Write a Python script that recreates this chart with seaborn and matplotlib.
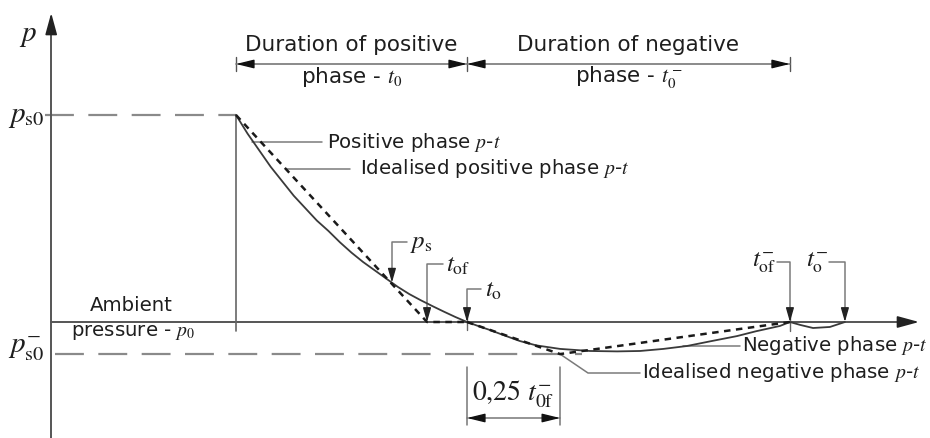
import matplotlib
matplotlib.use("Agg")
import matplotlib.pyplot as plt
import pandas as pd
import seaborn as sns

# ---------------- data (time in ms-like units, pressure relative to p_s0) -------------
t_pos = [0, 0.5, 1, 1.5, 2, 2.5, 3, 3.5, 4, 4.5, 5, 5.5, 6, 6.5, 7, 7.5, 8, 8.5,
         9, 9.5, 10]
p_pos = [1.0, 0.91, 0.83, 0.75, 0.68, 0.61, 0.55, 0.49, 0.44, 0.385, 0.335, 0.29,
         0.25, 0.21, 0.17, 0.135, 0.105, 0.077, 0.05, 0.024, 0.0]

t_pos_ideal = [0, 8.27, 10]
p_pos_ideal = [1.0, 0.0, 0.0]

t_neg = [10, 10.5, 11.0, 11.5, 12.29, 13.0, 14.03, 15.32, 16.5, 17.49, 18.5,
         19.52, 20.5, 21.69, 22.5, 23.55, 23.98, 24.42, 24.98, 25.71, 26.36]
p_neg = [0, -0.02, -0.039, -0.06, -0.092, -0.113, -0.130, -0.140, -0.142, -0.140,
         -0.130, -0.116, -0.094, -0.068, -0.045, -0.019, 0, -0.014, -0.029,
         -0.024, 0]

t_neg_ideal = [10, 14.03, 23.98]
p_neg_ideal = [0.0, -0.155, 0.0]

p_s0 = 1.0
p_s0_neg = -0.155
t_arrival = 0.0
t_of = 8.27
t_o = 10.0
t_of_neg = 23.98
t_o_neg = 26.36
t_ps, p_ps = 6.75, 0.19
t_axis = -8.0

# ---------------- style ----------------
sns.set_theme(style="white")
plt.rcParams["font.family"] = ["DejaVu Sans"]
plt.rcParams["mathtext.fontset"] = "stix"

W, H = 930, 439
fig = plt.figure(figsize=(W / 100, H / 100), dpi=100)
ax = fig.add_axes([0, 0, 1, 1])
# pixel -> data helpers (layout only)
def X(px):
    return (px - 236) / 23.1
def Y(py):
    return (323 - py) / 207.0
ax.set_xlim(X(0), X(W))
ax.set_ylim(Y(H), Y(0))
ax.axis("off")

TXT = "#1e1e1e"
AX_C = "#555555"
CURVE = "#3a3a3a"
LEAD = "#7a7a7a"
FS = 15.5     # header text
FS2 = 14.2    # curve labels

# ---------------- curves via seaborn ----------------
df_pos = pd.DataFrame({"t": t_pos, "p": p_pos})
df_pos_i = pd.DataFrame({"t": t_pos_ideal, "p": p_pos_ideal})
df_neg = pd.DataFrame({"t": t_neg, "p": p_neg})
df_neg_i = pd.DataFrame({"t": t_neg_ideal, "p": p_neg_ideal})

sns.lineplot(data=df_pos, x="t", y="p", ax=ax, color=CURVE, lw=1.3,
             sort=False, estimator=None, zorder=4)
sns.lineplot(data=df_neg, x="t", y="p", ax=ax, color=CURVE, lw=1.3,
             sort=False, estimator=None, zorder=4)
sns.lineplot(data=df_pos_i, x="t", y="p", ax=ax, color="#1a1a1a", lw=1.8,
             sort=False, estimator=None, zorder=5, linestyle=(0, (2.6, 2.2)))
sns.lineplot(data=df_neg_i, x="t", y="p", ax=ax, color="#1a1a1a", lw=1.8,
             sort=False, estimator=None, zorder=5, linestyle=(0, (2.6, 2.2)))

# ---------------- axes ----------------
ax.plot([t_axis, t_axis], [Y(H), Y(30)], color=AX_C, lw=1.4, zorder=3)
ax.annotate("", xy=(t_axis, Y(14)), xytext=(t_axis, Y(32)),
            arrowprops=dict(arrowstyle="-|>,head_length=1.1,head_width=0.3",
                            color="#222", lw=1.2, shrinkA=0, shrinkB=0))
ax.plot([t_axis, X(905)], [0, 0], color=AX_C, lw=1.4, zorder=3)
ax.annotate("", xy=(X(919), 0), xytext=(X(900), 0),
            arrowprops=dict(arrowstyle="-|>,head_length=1.1,head_width=0.3",
                            color="#222", lw=1.2, shrinkA=0, shrinkB=0))

# reference dashed levels
ax.plot([X(45), t_arrival], [p_s0, p_s0], color="#8a8a8a", lw=1.6,
        linestyle=(0, (13, 6.5)), zorder=2)
ax.plot([X(55), X(582)], [p_s0_neg, p_s0_neg], color="#8a8a8a", lw=1.6,
        linestyle=(0, (13, 6.5)), zorder=2)

# vertical at arrival and ticks on axis
ax.plot([t_arrival, t_arrival], [p_s0, Y(332)], color="#666", lw=1.2, zorder=3)
ax.plot([t_o, t_o], [Y(314), Y(331)], color="#666", lw=1.0, zorder=3)
ax.plot([t_of_neg, t_of_neg], [Y(316), Y(332)], color="#666", lw=1.0, zorder=3)

# ---------------- top duration dimension ----------------
ydim = Y(65)
ax.plot([t_arrival, t_of_neg], [ydim, ydim], color="#777", lw=1.2, zorder=3)
for tx in (t_arrival, t_o, t_of_neg):
    ax.plot([tx, tx], [Y(58), Y(72)], color="#555", lw=1.0)
arrow_small = dict(arrowstyle="-|>,head_length=0.9,head_width=0.22",
                   color="#111", lw=1.0, shrinkA=0, shrinkB=0)
for tip, tail in ((t_arrival, X(250)), (t_o, X(453)), (t_o, X(481)),
                  (t_of_neg, X(776))):
    ax.annotate("", xy=(tip, ydim), xytext=(tail, ydim), arrowprops=arrow_small)

ax.text((t_arrival + t_o) / 2, Y(45), "Duration of positive", ha="center",
        va="center", fontsize=FS, color=TXT)
ax.text((t_arrival + t_o) / 2, Y(77), "phase - $t_0$", ha="center",
        va="center", fontsize=FS, color=TXT)
ax.text((t_o + t_of_neg) / 2, Y(45), "Duration of negative", ha="center",
        va="center", fontsize=FS, color=TXT)
ax.text((t_o + t_of_neg) / 2, Y(77), "phase - $t_0^-$", ha="center",
        va="center", fontsize=FS, color=TXT)

# ---------------- axis labels ----------------
ax.text(X(28), Y(35), "$p$", ha="center", va="center", fontsize=21, color=TXT)
ax.text(X(45), p_s0, "$p_{\\mathrm{s0}}$", ha="right", va="center",
        fontsize=21, color=TXT)
ax.text(X(45), Y(349), "$p_{\\mathrm{s0}}^{-}$", ha="right", va="center",
        fontsize=21, color=TXT)
ax.text(X(131), Y(306), "Ambient", ha="center", va="center", fontsize=FS2,
        color=TXT)
ax.text(X(133), Y(333), "pressure - $p_0$", ha="center", va="center",
        fontsize=FS2, color=TXT)

# ---------------- curve labels with leaders ----------------
def leader(pts):
    xs = [p[0] for p in pts]
    ys = [p[1] for p in pts]
    ax.plot(xs, ys, color=LEAD, lw=1.1, zorder=3)

leader([(X(252), Y(143)), (X(322), Y(143))])
ax.text(X(327), Y(142), "Positive phase $p$-$t$", ha="left", va="center",
        fontsize=FS2, color=TXT)
leader([(X(287), Y(170)), (X(350), Y(170))])
ax.text(X(360), Y(169), "Idealised positive phase $p$-$t$", ha="left",
        va="center", fontsize=FS2, color=TXT)
leader([(X(683), Y(347)), (X(740), Y(347))])
ax.text(X(742), Y(346), "Negative phase $p$-$t$", ha="left", va="center",
        fontsize=FS2, color=TXT)
leader([(t_neg_ideal[1], p_neg_ideal[1]), (X(588), Y(374)), (X(640), Y(374))])
ax.text(X(642), Y(373), "Idealised negative phase $p$-$t$", ha="left",
        va="center", fontsize=FS2, color=TXT)

# ---------------- point markers with bent leaders ----------------
arrow_pt = dict(arrowstyle="-|>,head_length=0.7,head_width=0.2",
                color="#222", lw=1.0, shrinkA=0, shrinkB=0)

def marker(tx, py_top, tip_p, x_end, label, lx, left=False):
    ax.plot([x_end, tx, tx], [Y(py_top), Y(py_top), tip_p + 0.05],
            color=LEAD, lw=1.1, zorder=3)
    ax.annotate("", xy=(tx, tip_p), xytext=(tx, tip_p + 0.06),
                arrowprops=arrow_pt)
    ax.text(lx, Y(py_top), label, ha="right" if left else "left",
            va="center", fontsize=18, color=TXT)

marker(t_ps, 243, p_ps, X(407), "$p_{\\mathrm{s}}$", X(410))
marker(t_of, 265, 0.0, X(443), "$t_{\\mathrm{of}}$", X(446))
marker(t_o, 290, 0.0, X(481), "$t_{\\mathrm{o}}$", X(485))
marker(t_of_neg, 263, 0.0, X(777), "$t_{\\mathrm{of}}^{-}$", X(776), left=True)
marker(t_o_neg, 263, 0.0, X(829), "$t_{\\mathrm{o}}^{-}$", X(828), left=True)

# ---------------- 0.25 t_of- dimension ----------------
t_min = t_neg_ideal[1]
for tx in (t_o, t_min):
    ax.plot([tx, tx], [Y(368), Y(426)], color="#777", lw=1.1)
ydim2 = Y(419)
ax.plot([t_o, t_min], [ydim2, ydim2], color="#777", lw=1.1)
ax.annotate("", xy=(t_o, ydim2), xytext=(t_o + 0.6, ydim2), arrowprops=arrow_small)
ax.annotate("", xy=(t_min, ydim2), xytext=(t_min - 0.6, ydim2),
            arrowprops=arrow_small)
ax.text((t_o + t_min) / 2, Y(394), "0,25 $t_{\\mathrm{0f}}^{-}$", ha="center",
        va="center", fontsize=20, color=TXT, family="STIXGeneral")

fig.savefig("out.png", dpi=100)
